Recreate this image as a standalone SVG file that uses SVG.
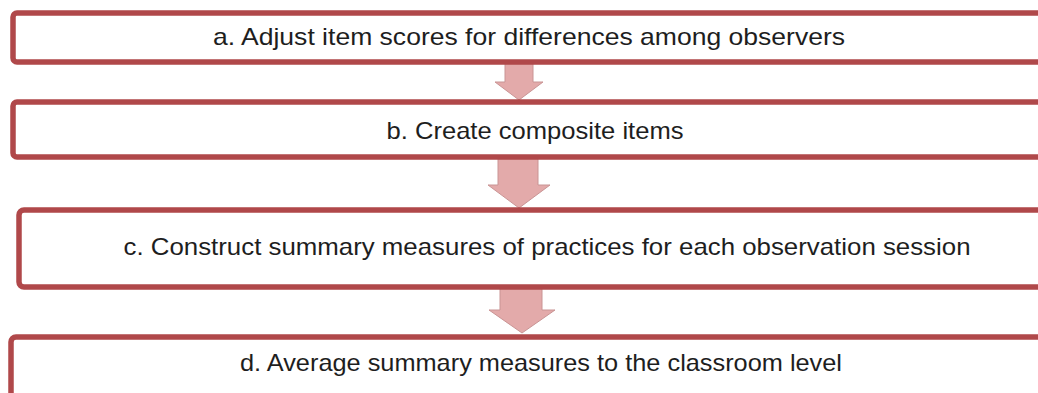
<svg xmlns="http://www.w3.org/2000/svg" width="1038" height="393" viewBox="0 0 1038 393" xml:space="preserve">
<style>
.box{fill:#fff;stroke:#b0484a;stroke-width:5.5}
.arr{fill:#e3aaaa;stroke:#c99494;stroke-width:1}
text{font-family:"Liberation Sans",Arial,sans-serif;font-size:24px;fill:#1e1e1e;text-anchor:middle}
</style>
<rect width="1038" height="393" fill="#fff"/>
<g id="connectors">
<polygon class="arr" points="505,63 533,63 533,82 543,82 519,100 495,82 505,82"/>
<polygon class="arr" points="498,158 538,158 538,185 550,185 519,208 488,185 498,185"/>
<polygon class="arr" points="500,288 542,288 542,310 555,310 522,333 489,310 500,310"/>
</g>
<g id="node-a">
<rect class="box" x="13" y="13" width="1040" height="49" rx="4"/>
<text x="529" y="45" textLength="632" lengthAdjust="spacingAndGlyphs">a. Adjust item scores for differences  among observers</text>
</g>
<g id="node-b">
<rect class="box" x="13" y="102" width="1040" height="55" rx="4"/>
<text x="535" y="139" textLength="297" lengthAdjust="spacingAndGlyphs">b. Create  composite items</text>
</g>
<g id="node-c">
<rect class="box" x="19" y="210" width="1040" height="77" rx="5"/>
<text x="547" y="255" textLength="847" lengthAdjust="spacingAndGlyphs">c. Construct summary measures  of practices for each observation  session</text>
</g>
<g id="node-d">
<rect class="box" x="11" y="337" width="1040" height="80" rx="5"/>
<text x="541" y="371" textLength="602" lengthAdjust="spacingAndGlyphs">d. Average  summary  measures to the classroom level</text>
</g>
</svg>
